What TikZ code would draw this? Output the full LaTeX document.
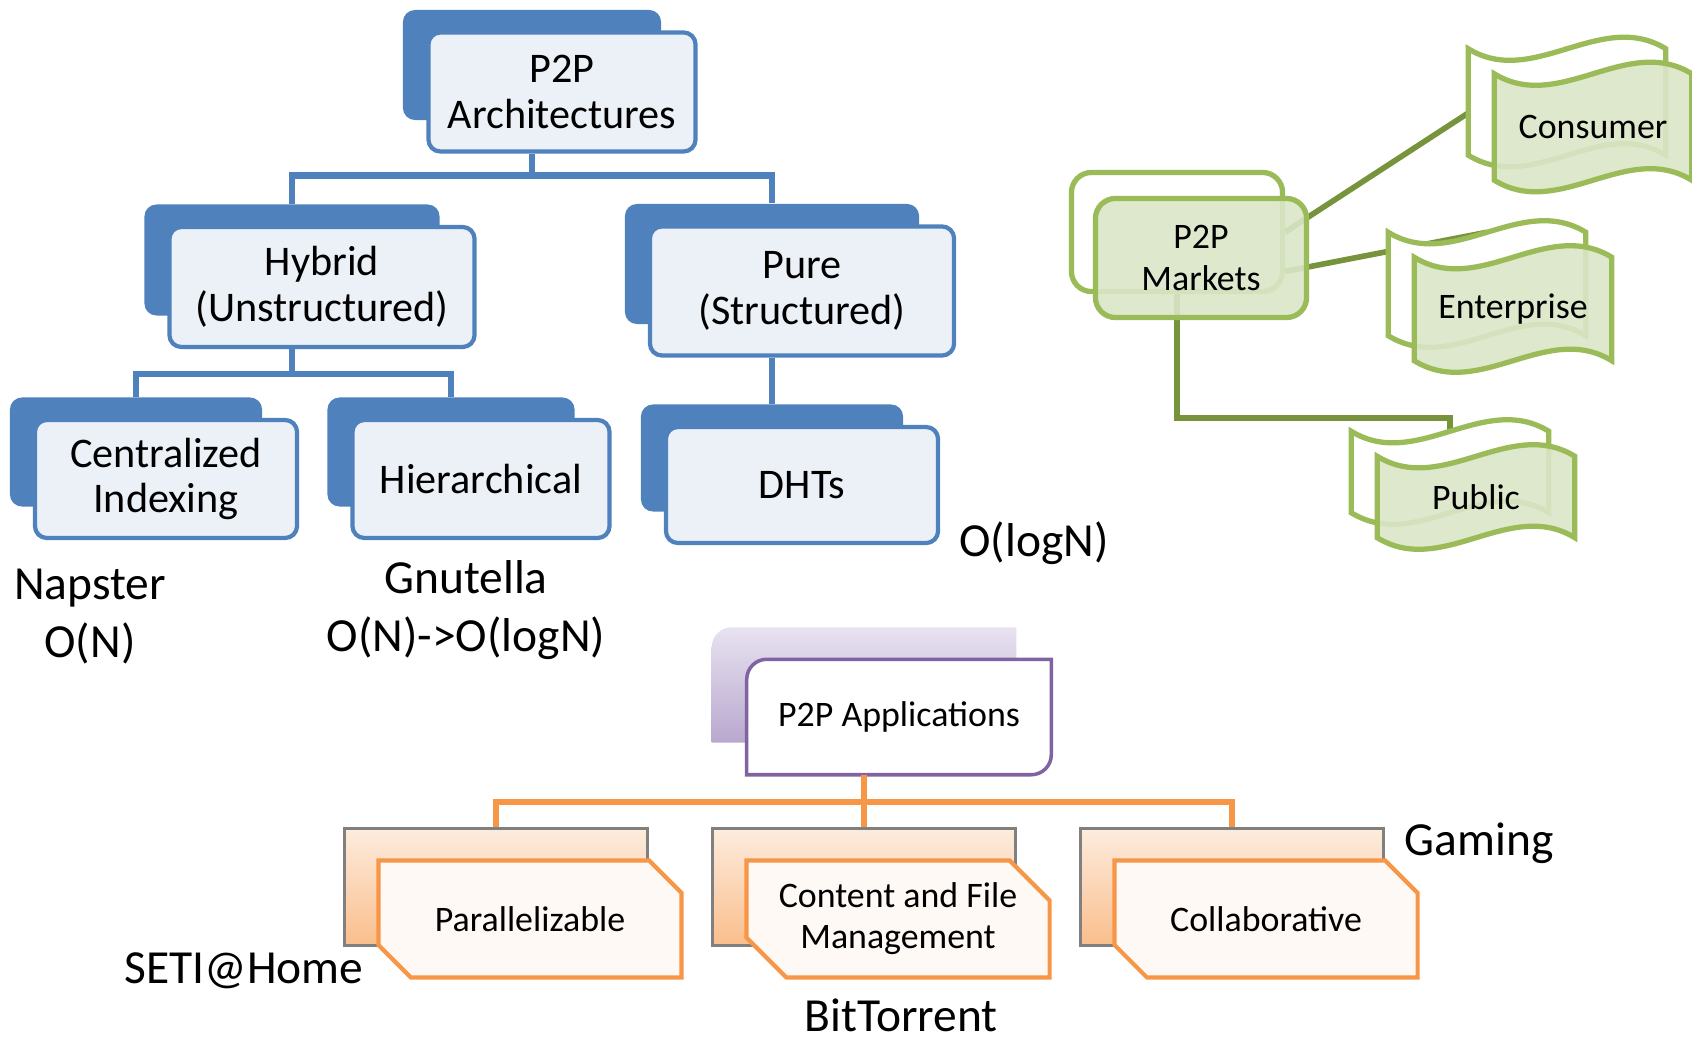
\documentclass[tikz,border=0pt]{standalone}
\usepackage{fontspec}
\setmainfont{Carlito}
\usepackage{tikz}
\usetikzlibrary{shapes.misc, positioning, backgrounds}

\definecolor{blueM}{RGB}{79,129,189}
\definecolor{blueF}{RGB}{236,241,248}
\definecolor{greenM}{RGB}{155,187,89}
\definecolor{greenD}{RGB}{119,147,60}
\definecolor{greenF}{RGB}{218,230,200}
\definecolor{orangeM}{RGB}{247,150,70}
\definecolor{orangeL}{RGB}{253,236,222}
\definecolor{orangeD}{RGB}{250,190,140}
\definecolor{orangeF}{RGB}{254,249,245}
\definecolor{purpleM}{RGB}{128,100,162}
\definecolor{purpleL}{RGB}{232,226,240}
\definecolor{purpleD}{RGB}{184,168,206}

\tikzset{
    base/.style={align=center, inner sep=0pt},
    blueback/.style={base, rectangle, rounded corners=0.12cm, fill=blueM},
    bluefront/.style={base, rectangle, rounded corners=0.12cm, draw=blueM, line width=1.2pt, fill=blueF, font=\fontsize{12}{13}\selectfont},
    greenback/.style={base, rectangle, rounded corners=0.2cm, draw=greenM, line width=1.5pt, fill=white},
    greenfront/.style={base, rectangle, rounded corners=0.2cm, draw=greenM, line width=1.5pt, fill=greenF, fill opacity=0.9, text opacity=1, font=\fontsize{10.2}{11.7}\selectfont},
    wavebox/.style={base, minimum width=1.96cm, font=\fontsize{10.2}{11.7}\selectfont},
    waveback/.style={draw=greenM, line width=1.5pt, fill=white},
    wavefront/.style={draw=greenM, line width=1.5pt, fill=greenF, fill opacity=0.9},
    orangeshape/.style={base, chamfered rectangle, chamfered rectangle corners={north east, south west}, chamfered rectangle xsep=0.2cm, chamfered rectangle ysep=0.2cm, minimum width=3.03cm, minimum height=1.17cm},
    orangeback/.style={orangeshape, draw=gray, line width=0.8pt, top color=orangeL, bottom color=orangeD},
    orangefront/.style={orangeshape, draw=orangeM, line width=1.2pt, fill=orangeF, font=\fontsize{10.2}{11.7}\selectfont},
    appbox/.style={base, minimum width=3.03cm, minimum height=1.14cm, font=\fontsize{10.2}{11.7}\selectfont},
    note/.style={align=center, font=\fontsize{13.5}{16.5}\selectfont},
    bline/.style={draw=blueM, line width=1.8pt},
    gline/.style={draw=greenD, line width=1.6pt},
    oline/.style={draw=orangeM, line width=1.7pt}
}

\begin{document}
\begin{tikzpicture}[x=0.01cm, y=-0.01cm]
    \useasboundingbox (0,0) rectangle (1692,1040);

    \node [blueback, minimum width=2.58cm, minimum height=1.10cm] (ARCb) at (532,65) {};
    \node [bluefront, minimum width=2.67cm, minimum height=1.19cm] (ARC) at ([shift={(30,27)}]ARCb) {P2P\\Architectures};
    \node [blueback, minimum width=2.95cm, minimum height=1.11cm] (HYBb) at (292,260) {};
    \node [bluefront, minimum width=3.05cm, minimum height=1.20cm] (HYB) at ([shift={(30,27)}]HYBb) {Hybrid\\(Unstructured)};
    \node [blueback, minimum width=2.94cm, minimum height=1.20cm] (PURb) at (772,264) {};
    \node [bluefront, minimum width=3.04cm, minimum height=1.29cm] (PUR) at ([shift={(30,27)}]PURb) {Pure\\(Structured)};
    \node [blueback, minimum width=2.52cm, minimum height=1.09cm] (CENb) at (136,452) {};
    \node [bluefront, minimum width=2.62cm, minimum height=1.18cm] (CEN) at ([shift={(30,27)}]CENb) {Centralized\\Indexing};
    \node [blueback, minimum width=2.47cm, minimum height=1.09cm] (HIEb) at (451,452) {};
    \node [bluefront, minimum width=2.57cm, minimum height=1.18cm] (HIE) at ([shift={(30,27)}]HIEb) {Hierarchical};
    \node [blueback, minimum width=2.62cm, minimum height=1.07cm] (DHTb) at (772,458) {};
    \node [bluefront, minimum width=2.72cm, minimum height=1.16cm] (DHT) at ([shift={(30,27)}]DHTb) {DHTs};

    \draw [bline] (ARCb |- ARC.south) -- ++(0,22) -| (HYBb.north);
    \draw [bline] (ARCb |- ARC.south) -- ++(0,22) -| (PURb.north);
    \draw [bline] (HYBb |- HYB.south) -- ++(0,25) -| (CENb.north);
    \draw [bline] (HYBb |- HYB.south) -- ++(0,25) -| (HIEb.north);
    \draw [bline] (PURb |- PUR.south) -- (DHTb.north);

    \node [note] (NAP) at (90,617) {Napster\\O(N)};
    \node [note] (GNU) at (466,610) {Gnutella\\O(N)->O(logN)};
    \node [note] (LOG) at (1034,543) {O(logN)};

    \node [greenback, minimum width=2.11cm, minimum height=1.19cm] (MKTb) at (1177,232) {};
    \node [greenfront, minimum width=2.11cm, minimum height=1.19cm] (MKT) at ([shift={(24,26)}]MKTb) {P2P\\Markets};
    \node [wavebox, minimum height=1.05cm] (CON) at (1593,127) {Consumer};
    \node [wavebox, minimum height=1.05cm] (CONb) at ([shift={(-26,-25)}]CON) {};
    \node [wavebox, minimum height=1.02cm] (ENT) at (1513,309) {Enterprise};
    \node [wavebox, minimum height=1.02cm] (ENTb) at ([shift={(-26,-25)}]ENT) {};
    \node [wavebox, minimum height=0.80cm] (PUB) at (1476,497) {Public};
    \node [wavebox, minimum height=0.80cm] (PUBb) at ([shift={(-26,-25)}]PUB) {};

    \begin{scope}[on background layer]
        \draw [gline] (MKTb.east) -- (CONb.north);
        \draw [gline] (MKTb.-20) -- (ENTb.north);
        \draw [gline] (MKTb.south) -- ++(0,124) -| (PUBb.north);
        \foreach \n/\s in {CONb/waveback, CON/wavefront, ENTb/waveback, ENT/wavefront, PUBb/waveback, PUB/wavefront} {
            \draw [\s] (\n.north west) .. controls +(65,40) and +(-65,-40) .. (\n.north east)
                -- (\n.south east) .. controls +(-65,-40) and +(65,40) .. (\n.south west) -- cycle;
        }
    \end{scope}

    \node [appbox] (APPb) at (864,685) {};
    \node [appbox] (APP) at ([shift={(35,32)}]APPb) {P2P Applications};
    \begin{scope}[on background layer]
        \shade [top color=purpleL, bottom color=purpleD] (APPb.south west) -- ([yshift=-0.2cm]APPb.north west)
            arc [start angle=180, end angle=90, radius=0.2cm] -- (APPb.north east) -- (APPb.south east) -- cycle;
        \draw [draw=purpleM, line width=1pt, fill=white] (APP.south west) -- ([yshift=-0.2cm]APP.north west)
            arc [start angle=180, end angle=90, radius=0.2cm] -- (APP.north east) -- ([yshift=0.2cm]APP.south east)
            arc [start angle=0, end angle=-90, radius=0.2cm] -- cycle;
    \end{scope}

    \node [orangeback] (PARb) at (496,887) {};
    \node [orangefront] (PAR) at ([shift={(34,32)}]PARb) {Parallelizable};
    \node [orangeback] (CFMb) at (864,887) {};
    \node [orangefront] (CFM) at ([shift={(34,32)}]CFMb) {Content and File\\Management};
    \node [orangeback] (COLb) at (1232,887) {};
    \node [orangefront] (COL) at ([shift={(34,32)}]COLb) {Collaborative};

    \draw [oline] (APPb |- APP.south) -- ++(0,27) -| (PARb.north);
    \draw [oline] (APPb |- APP.south) -- ++(0,27) -| (CFMb.north);
    \draw [oline] (APPb |- APP.south) -- ++(0,27) -| (COLb.north);

    \node [note] (SETI) at (244,971) {SETI@Home};
    \node [note] (BT) at (901,1015) {BitTorrent};
    \node [note] (GAM) at (1479,843) {Gaming};
\end{tikzpicture}
\end{document}
